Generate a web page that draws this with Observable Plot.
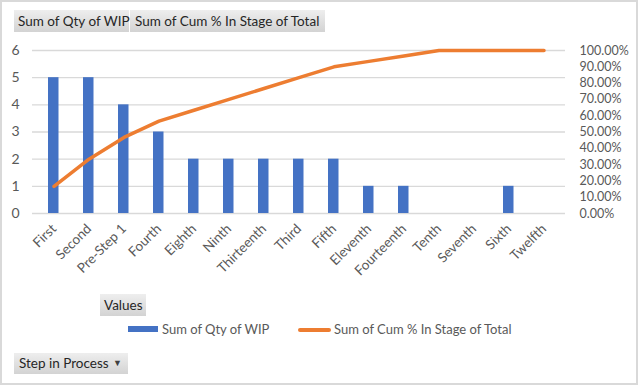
<!DOCTYPE html>
<html><head><meta charset="utf-8">
<script src="https://cdn.jsdelivr.net/npm/d3@7"></script>
<script src="https://cdn.jsdelivr.net/npm/@observablehq/plot@0.6"></script>
<style>
body{margin:0;background:#fff;font-family:Lato,"Open Sans",sans-serif;}
#wrap{position:relative;width:640px;height:386px;overflow:hidden;background:#fff;}
#chart{position:absolute;left:0;top:0;}
.frame{position:absolute;left:0;top:0;width:638px;height:385px;box-sizing:border-box;border:2px solid #d9d9d9;pointer-events:none;}
.btn{position:absolute;height:22px;line-height:22px;font-size:13.5px;color:#262626;background:linear-gradient(#eeeeee,#d3d3d3);box-sizing:border-box;text-align:left;padding-left:4px;white-space:pre;}
.leg{position:absolute;font-size:13px;color:#595959;white-space:nowrap;line-height:16px;}
.arrow{position:absolute;font-size:9px;color:#404040;}
</style></head>
<body><div id="wrap"><div id="chart"></div></div>
<script>
const steps = ["First","Second","Pre-Step 1","Fourth","Eighth","Ninth","Thirteenth","Third","Fifth","Eleventh","Fourteenth","Tenth","Seventh","Sixth","Twelfth"];
const qtyWIP = [5,5,4,3,2,2,2,2,2,1,1,0,0,1,0];
const cumPct = [16.67,33.33,46.67,56.67,63.33,70.00,76.67,83.33,90.00,93.33,96.67,100,100,100,100];
const leftTicks = [0,1,2,3,4,5,6];
const rightTicks = [0,10,20,30,40,50,60,70,80,90,100];

const data = steps.map((s,i)=>({step:s, qty:qtyWIP[i], cum:cumPct[i]}));
const pctToY = p => p/100*6;

const plot = Plot.plot({
  width:640, height:386,
  marginLeft:32, marginRight:75, marginTop:50, marginBottom:173,
  style:{fontFamily:"Lato, 'Open Sans', sans-serif", color:"#595959", background:"transparent"},
  x:{type:"band", domain:steps, padding:0},
  y:{domain:[0,6]},
  marks:[
    Plot.gridY(leftTicks,{stroke:"#d9d9d9", strokeOpacity:1, strokeWidth:1.3}),
    Plot.barY(data,{x:"step", y:"qty", fill:"#4472c4", insetLeft:12, insetRight:12.5}),
    Plot.lineY(data,{x:"step", y:d=>pctToY(d.cum), stroke:"#ed7d31", strokeWidth:3.5, strokeLinejoin:"round"}),
    Plot.axisY(leftTicks,{anchor:"left", tickSize:0, tickPadding:13, fontSize:14, label:null}),
    Plot.axisY(rightTicks.map(pctToY),{anchor:"right", tickSize:0, tickPadding:14, fontSize:12.5, label:null,
      tickFormat:d=>(d/6*100).toFixed(2)+"%"}),
    Plot.axisX({tickRotate:-45, tickSize:0, tickPadding:13, fontSize:13.5, label:null})
  ]
});
document.getElementById("chart").appendChild(plot);

const wrap = document.getElementById("wrap");
function add(cls, text, css){const d=document.createElement("div");d.className=cls;d.textContent=text;Object.assign(d.style,css);wrap.appendChild(d);return d;}
add("btn","Sum of Qty of WIP",{left:"14px",top:"10px",width:"115px"});
add("btn","Sum of Cum % In Stage of Total",{left:"130px",top:"10px",width:"195px",paddingLeft:"5px"});
add("btn","Values",{left:"100px",top:"294px",width:"46px"});
add("btn","Step in Process",{left:"14px",top:"353px",width:"114px",height:"21px",lineHeight:"21px",paddingLeft:"5px"});
add("arrow","\u25BC",{left:"113px",top:"357px",lineHeight:"12px"});
add("leg","",{left:"128px",top:"326px",width:"30px",height:"6px",background:"#4472c4"});
add("leg","Sum of Qty of WIP",{left:"162px",top:"321px"});
add("leg","",{left:"298px",top:"328px",width:"33px",height:"4px",background:"#ed7d31",borderRadius:"2px"});
add("leg","Sum of Cum % In Stage of Total",{left:"334px",top:"321px"});
add("frame","",{});
</script></body></html>
